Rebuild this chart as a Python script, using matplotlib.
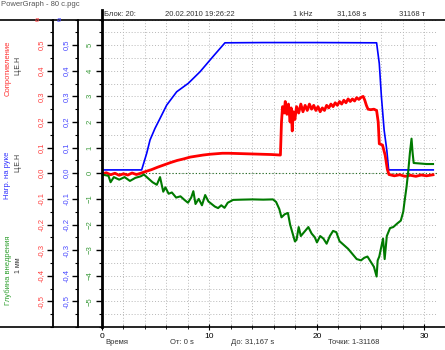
import matplotlib
matplotlib.use("Agg")
import matplotlib.pyplot as plt
from matplotlib.lines import Line2D
from matplotlib.ticker import MultipleLocator, FuncFormatter

plt.rcParams['font.family'] = ['Liberation Sans', 'DejaVu Sans']

# ---- data ----
blue_t = [0, 3.69, 4.16, 4.47, 4.93, 5.40, 6.02, 6.95, 8.03, 9.12, 10.36, 11.44,
          15.0, 20.0, 25.55, 25.8, 26.0, 26.25, 26.5, 26.67, 28.5, 30.82]
blue_v = [0.013, 0.013, 0.078, 0.13, 0.175, 0.214, 0.266, 0.318, 0.351, 0.396, 0.457, 0.509,
          0.51, 0.51, 0.509, 0.428, 0.298, 0.169, 0.09, 0.013, 0.013, 0.013]

red_t = [0, 0.4, 0.8, 1.2, 1.6, 2.0, 2.4, 2.8, 3.2, 3.6,
         4.0, 4.6, 5.2, 5.8, 6.4, 7.0, 7.6, 8.2, 8.8, 9.4, 10.0, 10.6, 11.2, 11.8,
         12.6, 13.4, 14.2, 15.0, 15.8, 16.6,
         16.7, 16.8, 16.95, 17.05, 17.2, 17.35, 17.5, 17.6, 17.7, 17.8, 17.95, 18.1,
         18.3, 18.5, 18.7, 18.9, 19.1, 19.3, 19.5, 19.7, 19.9, 20.1, 20.3, 20.5,
         20.7, 20.9, 21.1, 21.3, 21.5, 21.7, 21.9, 22.1, 22.3, 22.5, 22.7, 22.9,
         23.1, 23.3, 23.5, 23.7, 23.9, 24.1, 24.3, 24.45, 24.6, 24.75, 25.0, 25.3,
         25.55, 25.7, 25.8, 26.1, 26.35, 26.55, 26.7, 27.2, 27.7, 28.2, 28.7, 29.2,
         29.7, 30.2, 30.8]
red_v = [-0.003, 0.002, -0.006, 0.0, -0.008, -0.002, -0.007, 0.001, -0.005, 0.0,
         0.006, 0.014, 0.024, 0.033, 0.042, 0.05, 0.056, 0.063, 0.067, 0.071, 0.074, 0.076, 0.078, 0.078,
         0.077, 0.076, 0.075, 0.074, 0.073, 0.071,
         0.2, 0.26, 0.235, 0.28, 0.23, 0.27, 0.2, 0.255, 0.165, 0.24, 0.21, 0.26,
         0.235, 0.27, 0.24, 0.265, 0.245, 0.27, 0.25, 0.265, 0.245, 0.26, 0.24, 0.255,
         0.245, 0.265, 0.255, 0.27, 0.26, 0.275, 0.265, 0.28, 0.27, 0.285, 0.275, 0.29,
         0.28, 0.29, 0.282, 0.295, 0.288, 0.296, 0.3, 0.285, 0.265, 0.25, 0.248, 0.25,
         0.245, 0.2, 0.115, 0.11, 0.07, 0.015, -0.005, -0.01, -0.006, -0.012, -0.008, -0.012,
         -0.007, -0.01, -0.006]

green_t = [0, 0.6, 0.8, 1.1, 1.6, 2.1, 2.6, 3.1, 3.6, 3.9,
           4.3, 4.7, 5.1, 5.4, 5.7, 5.9, 6.2, 6.5, 6.9, 7.3, 7.7, 8.0, 8.3, 8.5, 8.7,
           9.0, 9.3, 9.6, 9.9, 10.2, 10.5, 10.8, 11.1, 11.4, 11.7, 12.2, 13.0, 14.0,
           15.0, 15.9, 16.2, 16.5, 16.7, 17.0, 17.3, 17.5, 17.95, 18.1, 18.3, 18.5,
           18.8, 19.2, 19.5, 19.8, 20.0, 20.3, 20.6, 20.9, 21.2, 21.5, 21.8, 22.1,
           22.5, 22.9, 23.3, 23.7, 24.1, 24.4, 24.7, 25.0, 25.3, 25.55, 25.65, 25.8,
           26.0, 26.15, 26.3, 26.5, 26.8, 27.1, 27.5, 27.8, 28.03, 28.15, 28.34,
           28.5, 28.65, 28.8, 28.9, 29.0, 29.6, 30.2, 30.8]
green_v = [-0.05, -0.1, -0.35, -0.15, -0.25, -0.15, -0.3, -0.18, -0.12, -0.05,
           -0.2, -0.35, -0.45, -0.15, -0.72, -0.55, -0.8, -0.75, -0.95, -0.9, -1.05, -1.15, -0.95, -0.7, -1.2,
           -1.0, -1.25, -0.85, -1.1, -1.2, -1.3, -1.36, -1.25, -1.35, -1.15, -1.04, -1.03, -1.02,
           -1.03, -1.02, -1.12, -1.4, -1.72, -1.6, -1.55, -2.0, -2.66, -2.6, -2.1, -2.45,
           -2.3, -2.1, -2.35, -2.5, -2.7, -2.45, -2.55, -2.75, -2.45, -2.25, -2.3, -2.65,
           -2.8, -2.95, -3.15, -3.35, -3.4, -3.3, -3.25, -3.45, -3.65, -4.03, -3.4, -3.25,
           -2.85, -2.55, -3.35, -2.45, -2.14, -2.1, -1.95, -1.85, -1.5, -1.1, -0.52,
           0.1, 0.8, 1.35, 0.8, 0.4, 0.38, 0.36, 0.36]

x_major = [0, 10, 20, 30]

W, H = 445, 350
fig = plt.figure(figsize=(W / 100, H / 100), dpi=100)
fig.patch.set_facecolor('white')

def fx(px):
    return px / W

def fy(py):
    return 1 - py / H

ax = fig.add_axes([fx(102), fy(327), fx(437) - fx(102), fy(19.5) - fy(327)])
ax.set_xlim(0, 31.17)
ax.set_ylim(-0.6, 0.6)

# grid
ax.xaxis.set_major_locator(MultipleLocator(10))
ax.xaxis.set_minor_locator(MultipleLocator(2))
ax.yaxis.set_major_locator(MultipleLocator(0.1))
ax.yaxis.set_minor_locator(MultipleLocator(0.05))
ax.grid(True, which='both', color='#b8b8b8', ls=(0, (1, 2)), lw=0.7)
ax.axhline(0, color='#1d6b1d', ls=(0, (1, 2)), lw=0.8)

comma = FuncFormatter(lambda v, p: ('%.1f' % v).replace('.', ',').replace('-0,0', '0,0'))

for s in ['top', 'right']:
    ax.spines[s].set_visible(False)
ax.spines['bottom'].set_visible(False)
ax.spines['left'].set_position(('outward', 17.3))
ax.spines['left'].set_linewidth(1.3)
ax.yaxis.set_major_formatter(comma)
ax.set_yticks([-0.5, -0.4, -0.3, -0.2, -0.1, 0.0, 0.1, 0.2, 0.3, 0.4, 0.5])
ax.tick_params(axis='y', which='major', length=4, width=1, labelsize=5.5,
               labelcolor='#4848ff', labelrotation=90, pad=2)
ax.tick_params(axis='y', which='minor', length=2, width=0.8)
ax.tick_params(axis='x', which='major', length=5, width=0.8, direction='inout',
               labelsize=6, pad=2)
ax.tick_params(axis='x', which='minor', length=3, width=0.6, direction='inout')
for lab in ax.get_yticklabels():
    lab.set_va('center')
ax.plot(blue_t, blue_v, color='#0000ff', lw=1.2)

# red axis
ax_r = ax.twinx()
ax_r.set_ylim(-0.6, 0.6)
for s in ['top', 'right', 'bottom']:
    ax_r.spines[s].set_visible(False)
ax_r.spines['left'].set_visible(True)
ax_r.spines['left'].set_position(('outward', 35.3))
ax_r.spines['left'].set_linewidth(1.3)
ax_r.yaxis.tick_left()
ax_r.yaxis.set_major_formatter(comma)
ax_r.set_yticks([-0.5, -0.4, -0.3, -0.2, -0.1, 0.0, 0.1, 0.2, 0.3, 0.4, 0.5])
ax_r.yaxis.set_minor_locator(MultipleLocator(0.05))
ax_r.tick_params(axis='y', which='major', length=4, width=1, labelsize=5.5,
                 labelcolor='#ff4040', labelrotation=90, pad=2)
ax_r.tick_params(axis='y', which='minor', length=2, width=0.8)
for lab in ax_r.get_yticklabels():
    lab.set_va('center')
ax_r.plot(red_t, red_v, color='#ff0000', lw=2.0)

# green axis
ax_g = ax.twinx()
ax_g.set_ylim(-6, 6)
for s in ['top', 'right', 'bottom']:
    ax_g.spines[s].set_visible(False)
ax_g.spines['left'].set_visible(True)
ax_g.spines['left'].set_linewidth(2.0)
ax_g.yaxis.tick_left()
ax_g.set_yticks([-5, -4, -3, -2, -1, 0, 1, 2, 3, 4, 5])
ax_g.yaxis.set_minor_locator(MultipleLocator(0.5))
ax_g.tick_params(axis='y', which='major', length=4, width=1, labelsize=5.5,
                 labelcolor='#3a9a3a', labelrotation=90, pad=2)
ax_g.tick_params(axis='y', which='minor', length=2, width=0.8)
for lab in ax_g.get_yticklabels():
    lab.set_va('center')
ax_g.plot(green_t, green_v, color='#007a00', lw=1.5)

# frame lines of the window
fig.add_artist(Line2D([0, 1], [fy(19.5), fy(19.5)], color='black', lw=1.2))
fig.add_artist(Line2D([0, 1], [fy(327), fy(327)], color='black', lw=1.2))
fig.add_artist(Line2D([fx(102), fx(102)], [fy(10), fy(19.5)], color='black', lw=2.0))

# header
fig.text(fx(1), fy(5), 'PowerGraph - 80 с.pgc', fontsize=5.5, color='#555555', va='center')
hdr = [(104, 'Блок: 20:'), (165, '20.02.2010 19:26:22'), (293, '1 kHz'),
       (337, '31,168 s'), (399, '31168 т')]
for px, s in hdr:
    fig.text(fx(px), fy(14), s, fontsize=5.5, color='#333333', va='center')
fig.text(fx(35), fy(21), 'ø', fontsize=5, color='#ff4040', va='center')
fig.text(fx(57), fy(21), 'ø', fontsize=5, color='#4848ff', va='center')

# footer
ftr = [(105, 'Время'), (170, 'От: 0 s'), (231, 'До: 31,167 s'), (328, 'Точки: 1-31168')]
for px, s in ftr:
    fig.text(fx(px), fy(343), s, fontsize=5.5, color='#333333', va='center')

# axis names
fig.text(fx(8), fy(68), 'Сопротивление', rotation=90, fontsize=5.5, color='#ff3030',
         ha='center', va='center')
fig.text(fx(18), fy(65), 'Ц.Е.Н', rotation=90, fontsize=5, color='#333333',
         ha='center', va='center')
fig.text(fx(8), fy(175), 'Нагр. на руке', rotation=90, fontsize=5.5, color='#3030ff',
         ha='center', va='center')
fig.text(fx(18), fy(162), 'Ц.Е.Н', rotation=90, fontsize=5, color='#333333',
         ha='center', va='center')
fig.text(fx(8), fy(270), 'Глубина внедрения', rotation=90, fontsize=5.5, color='#30a030',
         ha='center', va='center')
fig.text(fx(19), fy(265), '1 мм', rotation=90, fontsize=5, color='#333333',
         ha='center', va='center')

fig.savefig('out.png', dpi=100)
